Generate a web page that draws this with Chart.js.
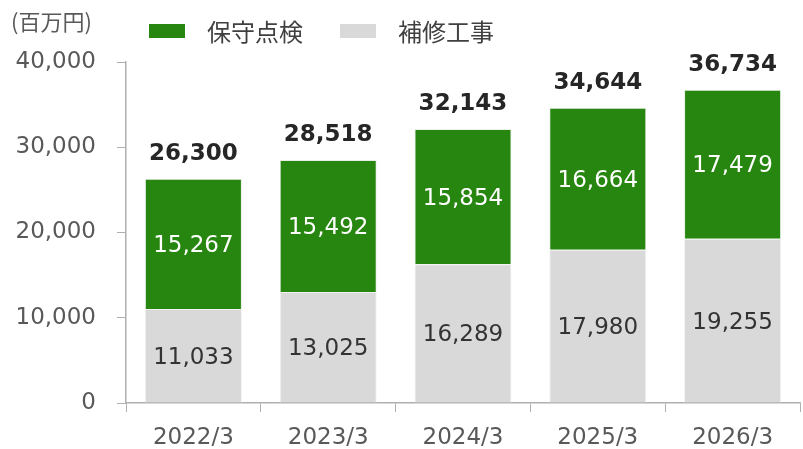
<!DOCTYPE html>
<html>
<head>
<meta charset="utf-8">
<script src="https://cdn.jsdelivr.net/npm/chart.js@4/dist/chart.umd.min.js"></script>
<style>
  html, body { margin: 0; padding: 0; background: #fff; }
  #wrap { width: 803px; height: 449px; }
</style>
</head>
<body>
<div id="wrap"><canvas id="chart" width="803" height="449"></canvas></div>
<script>
const years = ['2022/3', '2023/3', '2024/3', '2025/3', '2026/3'];
const repairWork = [11033, 13025, 16289, 17980, 19255];
const inspection = [15267, 15492, 15854, 16664, 17479];
const totals = [26300, 28518, 32143, 34644, 36734];
const yTicks = [0, 10000, 20000, 30000, 40000];

const GREEN = '#26860f';
const GRAY = '#d9d9d9';
const AXIS = '#b0b0b0';
const TEXT = '#595959';
const NUM_FONT = '"DejaVu Sans", Verdana, sans-serif';
const JP_FONT = '"Noto Sans CJK JP", sans-serif';

const fmt = v => v.toLocaleString('en-US');

const labelPlugin = {
    id: 'labels',
    afterDatasetsDraw(chart) {
        const ctx = chart.ctx;
        ctx.save();
        ctx.textAlign = 'center';
        ctx.textBaseline = 'middle';
        ctx.font = '23px ' + NUM_FONT;
        chart.data.datasets.forEach((ds, i) => {
            const meta = chart.getDatasetMeta(i);
            ctx.fillStyle = i === 0 ? '#333333' : '#ffffff';
            meta.data.forEach((bar, j) => {
                const mid = (bar.y + bar.base) / 2 + 2;
                ctx.fillText(fmt(ds.data[j]), bar.x, mid);
            });
        });
        const top = chart.getDatasetMeta(1);
        ctx.fillStyle = '#262626';
        ctx.font = 'bold 23px ' + NUM_FONT;
        ctx.textBaseline = 'alphabetic';
        top.data.forEach((bar, j) => {
            ctx.fillText(fmt(totals[j]), bar.x, bar.y - 19);
        });
        ctx.restore();
    },
    afterDraw(chart) {
        const ctx = chart.ctx;
        ctx.save();
        ctx.textBaseline = 'middle';
        ctx.textAlign = 'left';
        ctx.fillStyle = TEXT;
        ctx.font = '22px ' + JP_FONT;
        ctx.fillText('(百万円)', 11, 22);
        const items = [['保守点検', GREEN, 149], ['補修工事', GRAY, 340]];
        ctx.font = '24px ' + JP_FONT;
        items.forEach(([txt, col, x]) => {
            ctx.fillStyle = col;
            ctx.fillRect(x, 24, 36, 14);
            ctx.fillStyle = '#404040';
            ctx.fillText(txt, x + 58, 32);
        });
        ctx.restore();
    }
};

new Chart(document.getElementById('chart'), {
    type: 'bar',
    data: {
        labels: years,
        datasets: [
            {
                label: '補修工事',
                data: repairWork,
                backgroundColor: GRAY,
                borderColor: '#f2f2f2',
                borderWidth: 1,
                barPercentage: 0.72,
                categoryPercentage: 1
            },
            {
                label: '保守点検',
                data: inspection,
                backgroundColor: GREEN,
                borderColor: '#e8efe6',
                borderWidth: 1,
                barPercentage: 0.72,
                categoryPercentage: 1
            }
        ]
    },
    options: {
        responsive: false,
        animation: false,
        layout: { padding: { top: 62, right: 3, left: 0, bottom: 0 } },
        plugins: {
            legend: { display: false },
            tooltip: { enabled: false }
        },
        scales: {
            x: {
                stacked: true,
                offset: true,
                grid: {
                    offset: true,
                    drawOnChartArea: false,
                    drawTicks: true,
                    tickLength: 9,
                    color: AXIS
                },
                border: { color: AXIS, width: 1.5 },
                ticks: {
                    color: TEXT,
                    font: { family: NUM_FONT, size: 23 },
                    padding: 12
                },
                afterFit(scale) { scale.height = 46; }
            },
            y: {
                stacked: true,
                min: 0,
                max: 40000,
                afterBuildTicks(scale) {
                    scale.ticks = yTicks.map(v => ({ value: v }));
                },
                grid: {
                    drawOnChartArea: false,
                    drawTicks: true,
                    tickLength: 9,
                    color: AXIS
                },
                border: { color: AXIS, width: 1.5 },
                ticks: {
                    color: TEXT,
                    font: { family: NUM_FONT, size: 23 },
                    padding: 21,
                    callback: v => fmt(v)
                },
                afterFit(scale) { scale.width = 126; }
            }
        }
    },
    plugins: [labelPlugin]
});
</script>
</body>
</html>
